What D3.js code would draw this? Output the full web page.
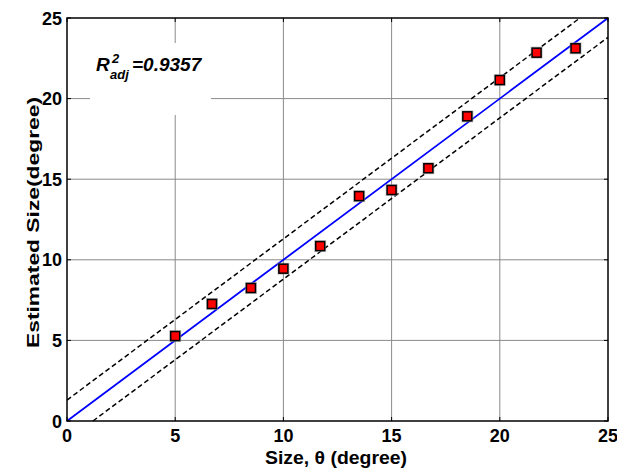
<!DOCTYPE html>
<html><head><meta charset="utf-8">
<script src="https://cdn.jsdelivr.net/npm/d3@7"></script>
<style>
html,body{margin:0;padding:0;background:#fff;}
text{font-family:"Liberation Sans",Arial,sans-serif;font-weight:bold;}
</style></head>
<body><svg id="c" width="617" height="471"></svg>
<script>
const sizeX = [5, 6.7, 8.5, 10, 11.7, 13.5, 15, 16.7, 18.5, 20, 21.7, 23.5];
const estY  = [5.27, 7.26, 8.25, 9.45, 10.85, 13.95, 14.33, 15.68, 18.9, 21.15, 22.85, 23.12];
const xTicks = [0, 5, 10, 15, 20, 25];
const yTicks = [0, 5, 10, 15, 20, 25];
const fitLine = [[0, 0], [25, 25]];
const upperBound = [[0, 1.3], [23.7, 25]];
const lowerBound = [[1.2, 0], [25, 23.8]];
const r2Value = "0.9357";

const svg = d3.select("#c");
const L = 67, R = 608, T = 18, B = 421;
const x = d3.scaleLinear().domain([0, 25]).range([L, R]);
const y = d3.scaleLinear().domain([0, 25]).range([B, T]);

// grid
const g = svg.append("g");
g.selectAll(".gx").data(xTicks.filter(d => d > 0 && d < 25)).enter().append("line")
  .attr("x1", d => x(d)).attr("x2", d => x(d)).attr("y1", T).attr("y2", B)
  .attr("stroke", "#8a8a8a").attr("stroke-width", 1);
g.selectAll(".gy").data(yTicks.filter(d => d > 0 && d < 25)).enter().append("line")
  .attr("y1", d => y(d)).attr("y2", d => y(d)).attr("x1", L).attr("x2", R)
  .attr("stroke", "#8a8a8a").attr("stroke-width", 1);

// white box for annotation
svg.append("rect").attr("x", 90).attr("y", 43).attr("width", 121).attr("height", 72).attr("fill", "#fff");

const line = d3.line().x(d => x(d[0])).y(d => y(d[1]));
svg.append("path").attr("d", line(upperBound)).attr("stroke", "#000").attr("stroke-width", 1.5)
  .attr("stroke-dasharray", "5,3").attr("fill", "none");
svg.append("path").attr("d", line(lowerBound)).attr("stroke", "#000").attr("stroke-width", 1.5)
  .attr("stroke-dasharray", "5,3").attr("fill", "none");
svg.append("path").attr("d", line(fitLine)).attr("stroke", "#0000ff").attr("stroke-width", 1.8).attr("fill", "none");

// markers
const pts = sizeX.map((v, i) => [v, estY[i]]);
const s = 9;
svg.selectAll(".halo").data(pts).enter().append("rect")
  .attr("x", d => x(d[0]) - s/2 - 1.5).attr("y", d => y(d[1]) - s/2 - 1.5)
  .attr("width", s + 3).attr("height", s + 3).attr("fill", "#999").attr("opacity", 0.6);
svg.selectAll(".pt").data(pts).enter().append("rect")
  .attr("x", d => x(d[0]) - s/2).attr("y", d => y(d[1]) - s/2)
  .attr("width", s).attr("height", s).attr("fill", "#ff0000")
  .attr("stroke", "#000").attr("stroke-width", 1.5);

// axes frame
svg.append("rect").attr("x", L).attr("y", T).attr("width", R - L).attr("height", B - T)
  .attr("fill", "none").attr("stroke", "#000").attr("stroke-width", 1.5);

// inward ticks
const tk = 4;
xTicks.forEach(d => {
  svg.append("line").attr("x1", x(d)).attr("x2", x(d)).attr("y1", B).attr("y2", B - tk).attr("stroke", "#000");
  svg.append("line").attr("x1", x(d)).attr("x2", x(d)).attr("y1", T).attr("y2", T + tk).attr("stroke", "#000");
});
yTicks.forEach(d => {
  svg.append("line").attr("y1", y(d)).attr("y2", y(d)).attr("x1", L).attr("x2", L + tk).attr("stroke", "#000");
  svg.append("line").attr("y1", y(d)).attr("y2", y(d)).attr("x1", R).attr("x2", R - tk).attr("stroke", "#000");
});

// tick labels
svg.selectAll(".xl").data(xTicks).enter().append("text")
  .attr("x", d => x(d)).attr("y", 442).attr("text-anchor", "middle")
  .attr("font-size", 18).text(d => d);
svg.selectAll(".yl").data(yTicks).enter().append("text")
  .attr("x", 62).attr("y", d => y(d) + 6.5).attr("text-anchor", "end")
  .attr("font-size", 18).text(d => d);

// axis titles
svg.append("text").attr("x", 265).attr("y", 464)
  .attr("font-size", 18).attr("textLength", 142).attr("lengthAdjust", "spacingAndGlyphs")
  .text("Size, θ (degree)");
svg.append("text").attr("transform", "translate(39,348) rotate(-90)")
  .attr("font-size", 17).attr("textLength", 251).attr("lengthAdjust", "spacingAndGlyphs")
  .text("Estimated Size(degree)");

// annotation
const ann = svg.append("text").attr("font-style", "italic");
ann.append("tspan").attr("x", 96).attr("y", 71).attr("font-size", 19).text("R");
ann.append("tspan").attr("x", 112).attr("y", 63).attr("font-size", 13).text("2");
ann.append("tspan").attr("x", 110).attr("y", 79).attr("font-size", 13).text("adj");
ann.append("tspan").attr("x", 132).attr("y", 71).attr("font-size", 19).text("=" + r2Value);
</script></body></html>
